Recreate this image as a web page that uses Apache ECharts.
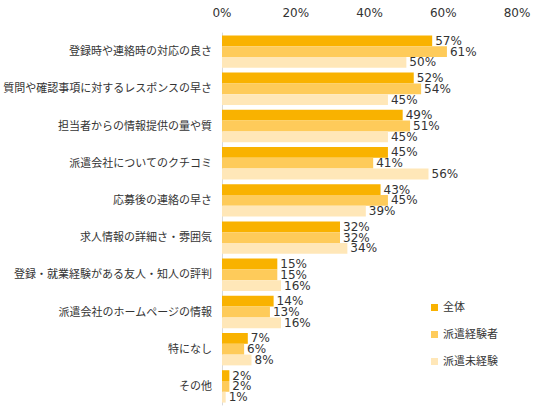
<!DOCTYPE html>
<html>
<head>
<meta charset="utf-8">
<script src="https://cdn.jsdelivr.net/npm/echarts@6/dist/echarts.min.js"></script>
<style>
  html, body { margin: 0; padding: 0; background: #fff; }
  #chart { width: 536px; height: 413px; }
</style>
</head>
<body>
<div id="chart"></div>
<script>
const categories = [
  '登録時や連絡時の対応の良さ',
  '質問や確認事項に対するレスポンスの早さ',
  '担当者からの情報提供の量や質',
  '派遣会社についてのクチコミ',
  '応募後の連絡の早さ',
  '求人情報の詳細さ・雰囲気',
  '登録・就業経験がある友人・知人の評判',
  '派遣会社のホームページの情報',
  '特になし',
  'その他'
];
const seriesNames = ['全体', '派遣経験者', '派遣未経験'];
const allValues = [57, 52, 49, 45, 43, 32, 15, 14, 7, 2];
const experiencedValues = [61, 54, 51, 41, 45, 32, 15, 13, 6, 2];
const inexperiencedValues = [50, 45, 45, 56, 39, 34, 16, 16, 8, 1];
const colors = ['#F9B200', '#FECB5A', '#FFE7B8'];

const font = '"DejaVu Sans", "Noto Sans CJK JP", sans-serif';
const chart = echarts.init(document.getElementById('chart'), null, { renderer: 'svg' });

function makeSeries(name, data, color) {
  return {
    name: name,
    type: 'bar',
    data: data,
    barGap: '0%',
    barCategoryGap: '13%',
    itemStyle: { color: color },
    label: {
      show: true,
      position: 'right',
      distance: 3,
      formatter: '{c}%',
      color: '#333',
      fontSize: 12,
      fontFamily: font
    },
    emphasis: { disabled: true }
  };
}

const option = {
  animation: false,
  color: colors,
  grid: { left: 221, right: 19, top: 33, bottom: 8, containLabel: false },
  legend: {
    orient: 'vertical',
    left: 426,
    top: 297,
    itemWidth: 7,
    itemHeight: 7,
    itemGap: 16,
    icon: 'rect',
    textStyle: { fontSize: 11, color: '#333', fontFamily: font },
    data: seriesNames
  },
  xAxis: {
    type: 'value',
    position: 'top',
    min: 0,
    max: 80,
    interval: 20,
    axisLine: { show: false },
    axisTick: { show: false },
    splitLine: { show: false },
    axisLabel: {
      formatter: '{value}%',
      color: '#333',
      fontSize: 12,
      fontFamily: font,
      margin: 14
    }
  },
  yAxis: {
    type: 'category',
    data: categories,
    inverse: true,
    axisLine: { show: true, lineStyle: { color: '#d9d9d9' } },
    axisTick: { show: false },
    axisLabel: {
      color: '#333',
      fontSize: 11,
      fontFamily: font,
      margin: 10
    }
  },
  series: [
    makeSeries(seriesNames[0], allValues, colors[0]),
    makeSeries(seriesNames[1], experiencedValues, colors[1]),
    makeSeries(seriesNames[2], inexperiencedValues, colors[2])
  ]
};

chart.setOption(option);
</script>
</body>
</html>
